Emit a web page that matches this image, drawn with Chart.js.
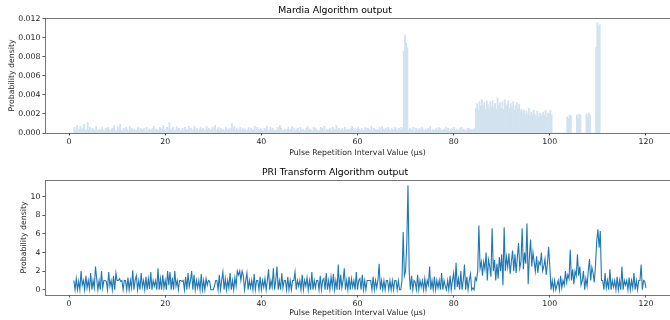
<!DOCTYPE html>
<html>
<head>
<meta charset="utf-8">
<script src="https://cdn.jsdelivr.net/npm/chart.js@4/dist/chart.umd.min.js"></script>
<style>
  html, body { margin: 0; padding: 0; background: #fff; }
  .panel { position: relative; width: 670px; height: 160px; }
</style>
</head>
<body>
<div class="panel"><canvas id="mardiaChart"></canvas></div>
<div class="panel"><canvas id="priChart"></canvas></div>
<script>
// shared x axis (PRI, µs)
const xTicks = [0, 20, 40, 60, 80, 100, 120];
const mardiaYTicks = [0, 0.002, 0.004, 0.006, 0.008, 0.010, 0.012];
const priYTicks = [0, 2, 4, 6, 8, 10];

// Mardia histogram: bins of 0.25 µs starting at 1.0 µs, one row per µs
const mardiaBinStart = 1.0;
const mardiaBinWidth = 0.25;
const mardiaDensity = [
  6e-4, 3e-4, 8e-4, 2e-4,  4e-4, 7e-4, 3e-4, 5e-4,  9e-4, 2e-4, 4e-4, 1.1e-3,  3e-4, 6e-4, 2e-4, 5e-4,
  4e-4, 2e-4, 7e-4, 3e-4,  2e-4, 4e-4, 3e-4, 6e-4,  3e-4, 2e-4, 5e-4, 4e-4,  6e-4, 3e-4, 2e-4, 4e-4,
  5e-4, 8e-4, 3e-4, 2e-4,  7e-4, 4e-4, 9e-4, 3e-4,  2e-4, 5e-4, 3e-4, 6e-4,  4e-4, 2e-4, 7e-4, 3e-4,
  5e-4, 3e-4, 4e-4, 2e-4,  3e-4, 6e-4, 2e-4, 5e-4,  4e-4, 3e-4, 5e-4, 2e-4,  6e-4, 2e-4, 4e-4, 3e-4,
  3e-4, 5e-4, 7e-4, 2e-4,  4e-4, 3e-4, 2e-4, 6e-4,  5e-4, 4e-4, 8e-4, 3e-4,  2e-4, 6e-4, 3e-4, 1.1e-3,
  4e-4, 3e-4, 6e-4, 2e-4,  3e-4, 7e-4, 4e-4, 5e-4,  2e-4, 3e-4, 5e-4, 2e-4,  6e-4, 4e-4, 3e-4, 7e-4,
  3e-4, 5e-4, 2e-4, 4e-4,  7e-4, 3e-4, 5e-4, 2e-4,  4e-4, 6e-4, 3e-4, 5e-4,  2e-4, 4e-4, 7e-4, 3e-4,
  5e-4, 3e-4, 4e-4, 6e-4,  3e-4, 8e-4, 2e-4, 4e-4,  6e-4, 3e-4, 5e-4, 3e-4,  4e-4, 2e-4, 6e-4, 4e-4,
  3e-4, 5e-4, 3e-4, 1.0e-3,  4e-4, 7e-4, 3e-4, 5e-4,  2e-4, 4e-4, 6e-4, 3e-4,  5e-4, 3e-4, 4e-4, 2e-4,
  3e-4, 6e-4, 2e-4, 5e-4,  4e-4, 3e-4, 7e-4, 2e-4,  6e-4, 4e-4, 3e-4, 5e-4,  3e-4, 2e-4, 5e-4, 4e-4,
  7e-4, 3e-4, 2e-4, 6e-4,  4e-4, 5e-4, 3e-4, 2e-4,  3e-4, 6e-4, 4e-4, 8e-4,  5e-4, 2e-4, 3e-4, 4e-4,
  2e-4, 4e-4, 6e-4, 3e-4,  4e-4, 7e-4, 2e-4, 5e-4,  3e-4, 4e-4, 5e-4, 2e-4,  6e-4, 3e-4, 4e-4, 3e-4,
  2e-4, 5e-4, 7e-4, 4e-4,  4e-4, 3e-4, 2e-4, 6e-4,  5e-4, 4e-4, 3e-4, 2e-4,  3e-4, 6e-4, 5e-4, 4e-4,
  7e-4, 2e-4, 4e-4, 3e-4,  4e-4, 5e-4, 2e-4, 6e-4,  3e-4, 4e-4, 8e-4, 3e-4,  5e-4, 2e-4, 4e-4, 5e-4,
  2e-4, 6e-4, 3e-4, 4e-4,  4e-4, 3e-4, 5e-4, 7e-4,  3e-4, 5e-4, 2e-4, 4e-4,  6e-4, 4e-4, 3e-4, 5e-4,
  3e-4, 2e-4, 6e-4, 4e-4,  5e-4, 4e-4, 3e-4, 7e-4,  2e-4, 5e-4, 4e-4, 3e-4,  4e-4, 3e-4, 6e-4, 2e-4,
  7e-4, 4e-4, 3e-4, 5e-4,  3e-4, 6e-4, 4e-4, 2e-4,  5e-4, 3e-4, 4e-4, 6e-4,  4e-4, 2e-4, 5e-4, 3e-4,
  6e-4, 4e-4, 8.6e-3, 1.03e-2,  9.5e-3, 9.0e-3, 3e-4, 5e-4,  4e-4, 3e-4, 6e-4, 2e-4,  5e-4, 4e-4, 3e-4, 5e-4,
  3e-4, 6e-4, 4e-4, 2e-4,  4e-4, 3e-4, 5e-4, 4e-4,  7e-4, 2e-4, 4e-4, 3e-4,  3e-4, 5e-4, 3e-4, 6e-4,
  5e-4, 3e-4, 2e-4, 4e-4,  4e-4, 6e-4, 3e-4, 5e-4,  2e-4, 4e-4, 5e-4, 3e-4,  6e-4, 3e-4, 4e-4, 2e-4,
  3e-4, 5e-4, 6e-4, 4e-4,  4e-4, 3e-4, 2e-4, 5e-4,  5e-4, 4e-4, 3e-4, 4e-4,  3e-4, 5e-4, 2.6e-3, 3.1e-3,
  2.4e-3, 3.3e-3, 2.8e-3, 3.5e-3,  2.9e-3, 3.2e-3, 2.5e-3, 3.4e-3,  3.0e-3, 2.6e-3, 3.3e-3, 2.8e-3,
  3.4e-3, 2.7e-3, 3.1e-3, 2.5e-3,  3.7e-3, 2.9e-3, 3.2e-3, 2.6e-3,  3.3e-3, 2.5e-3, 3.5e-3, 2.8e-3,
  3.0e-3, 3.4e-3, 2.6e-3, 3.1e-3,  2.7e-3, 3.3e-3, 2.4e-3, 2.9e-3,  3.2e-3, 2.6e-3, 3.0e-3, 2.3e-3,
  2.5e-3, 2.1e-3, 2.4e-3, 1.9e-3,  2.3e-3, 2.0e-3, 2.6e-3, 1.8e-3,  2.2e-3, 1.9e-3, 2.4e-3, 2.0e-3,
  1.8e-3, 2.3e-3, 1.7e-3, 2.1e-3,  2.0e-3, 1.8e-3, 2.2e-3, 1.9e-3,  2.4e-3, 1.7e-3, 2.1e-3, 2.0e-3,
  2.4e-3, 1.9e-3, 0, 0,  0, 0, 0, 0,  0, 0, 0, 0,  0, 0, 1.7e-3, 1.5e-3,
  1.9e-3, 1.8e-3, 0, 0,  0, 0, 1.9e-3, 1.6e-3,  2.0e-3, 1.9e-3, 0, 0,  0, 0, 2.0e-3, 1.7e-3,
  2.1e-3, 1.9e-3, 0, 0,  0, 0, 9.0e-3, 1.16e-2,  1.12e-2, 1.14e-2
];

// PRI transform output: samples every 0.25 µs from 1 to 120 µs, one row per µs
const priStart = 1.0;
const priStep = 0.25;
const priDensity = [
  1.0, 0, 1.2, 0,   0.9, 0, 2.0, 0.5,   1.0, 0, 1.5, 0.2,   1.0, 0.1, 1.8, 0,   1.0, 0.2, 2.5, 1.2,
  0, 1.0, 0, 2.0,   0.2, 1.0, 1.0, 0.9,   0, 1.9, 0.4, 1.0,   0, 1.5, 0, 1.8,   1.0, 1.0, 1.2, 0.9,
  1.0, 0, 1.0, 1.0,   0, 1.3, 0, 1.0,   0.2, 2.1, 0, 1.0,   1.5, 0, 1.0, 0,   1.8, 0.3, 1.0, 0,
  1.4, 0, 1.2, 0.1,   1.9, 0, 1.0, 0.4,   1.0, 0, 2.3, 0,   1.2, 0, 1.6, 0.2,   1.0, 0, 2.0, 0.5,
  1.9, 0, 1.3, 0,   2.0, 0.4, 1.0, 0,   1.0, 1.0, 0.9, 1.0,   0, 1.4, 0, 1.8,   0.3, 1.0, 2.0, 0,
  1.6, 0, 1.0, 0.2,   1.0, 0, 1.7, 0,   1.0, 0, 1.2, 0.5,   1.0, 0.9, 0, 0,   0, 0.4, 1.0, 1.0,
  0, 1.6, 0, 1.0,   1.9, 0, 1.2, 0,   1.0, 0.2, 1.8, 0,   1.0, 0, 1.3, 0.4,   2.0, 1.6, 2.0, 1.0,
  2.0, 1.5, 0, 1.0,   1.8, 0, 1.0, 0.2,   1.0, 0, 1.7, 0,   1.0, 1.0, 0, 1.4,   0, 1.0, 0.3, 1.2,
  0, 1.0, 2.2, 0,   1.0, 0.3, 2.3, 0,   1.0, 2.5, 0, 1.0,   0, 1.8, 0.2, 1.0,   1.0, 0, 1.4, 0,
  1.0, 0, 1.0, 1.0,   1.9, 0, 1.0, 0.4,   1.0, 0, 1.6, 0,   1.0, 0.4, 1.3, 0,   1.0, 0, 1.9, 0,
  1.0, 0.2, 1.0, 1.0,   0, 1.5, 0, 1.0,   1.2, 0, 1.8, 0,   1.0, 0, 1.4, 0.3,   1.7, 0, 1.0, 0,
  2.7, 0, 1.6, 0.2,   1.0, 2.3, 0, 1.0,   0, 1.4, 0, 1.2,   0.3, 1.0, 0, 1.9,   0, 1.0, 1.2, 0,
  1.6, 0, 1.0, 0,   1.0, 1.0, 1.0, 1.0,   0, 1.4, 0, 1.0,   0.2, 1.0, 2.8, 0,   1.0, 0, 1.0, 0,
  1.0, 1.0, 0, 1.0,   0, 1.0, 0, 1.0,   1.0, 0, 1.0, 0,   0, 1.0, 6.2, 1.5,   2.0, 5.0, 11.2, 2.0,
  0, 1.5, 0, 1.0,   0.8, 0, 1.6, 0,   1.0, 0.3, 1.0, 0,   1.2, 0, 1.0, 0.5,   2.5, 0, 1.0, 0,
  1.4, 0, 1.0, 0.2,   1.0, 0, 1.8, 0,   1.0, 0.4, 0, 1.0,   0, 1.5, 0, 1.0,   1.8, 0, 2.9, 0.3,
  1.2, 0, 2.0, 0,   1.0, 2.7, 0, 1.4,   0, 1.0, 1.7, 0,   0.2, 0, 1.3, 1.0,   2.0, 6.9, 2.3, 3.0,
  1.5, 3.0, 2.2, 4.0,   1.0, 3.2, 2.5, 1.4,   6.6, 2.0, 3.2, 1.0,   2.8, 1.2, 3.5, 2.0,   3.8, 0.5, 6.7, 2.0,
  3.5, 2.4, 3.9, 1.7,   3.0, 4.2, 2.0, 3.8,   1.8, 3.5, 5.0, 2.3,   3.0, 6.6, 2.2, 4.0,   2.8, 7.1, 0.6, 3.5,
  5.4, 2.5, 4.0, 3.0,   2.0, 3.6, 1.8, 3.0,   2.7, 4.0, 2.0, 2.5,   3.3, 1.6, 2.8, 4.6,   2.5, 0, 1.0, 0,
  1.0, 0, 0.5, 1.0,   0, 1.5, 0.2, 1.0,   0.5, 2.0, 0.8, 1.6,   1.2, 4.3, 1.0, 2.2,   0.6, 2.0, 1.5, 3.8,
  1.5, 2.5, 0.5, 1.0,   2.0, 0, 1.2, 0.4,   2.0, 3.3, 1.0, 2.4,   1.8, 0.8, 2.6, 5.2,   6.5, 4.5, 6.3, 1.0,
  1.0, 0, 1.8, 0.2,   1.0, 0, 2.2, 0,   1.0, 0.3, 1.0, 0,   1.4, 0, 1.0, 0,   2.5, 0, 1.0, 0.5,
  1.0, 0, 1.3, 0,   1.0, 0.2, 1.8, 0,   1.0, 0, 1.0, 1.0,   2.7, 0, 1.0, 0.9,
  0.2
];

const tickFont = { family: "'DejaVu Sans', sans-serif", size: 7.8 };
const titleFont = { family: "'DejaVu Sans', sans-serif", size: 9.3, weight: "normal" };
const textColor = "#222";
const spineColor = "#555";

// matplotlib style full box around the plot area
const frame = {
  id: "frame",
  afterDraw(chart) {
    const { ctx, chartArea: a } = chart;
    ctx.save();
    ctx.strokeStyle = spineColor;
    ctx.lineWidth = 0.8;
    ctx.strokeRect(Math.round(a.left) + 0.5, Math.round(a.top) + 0.5,
      Math.round(a.right - a.left), Math.round(a.bottom - a.top));
    ctx.restore();
  }
};

function xAxis(height) {
  return {
    type: "linear",
    min: -5,
    max: 125,
    offset: false,
    grid: { drawOnChartArea: false, drawTicks: true, tickLength: 2.5, tickColor: spineColor, offset: false },
    border: { display: false },
    ticks: { font: tickFont, color: textColor, padding: 1.5, autoSkip: false, maxRotation: 0 },
    afterBuildTicks: (scale) => { scale.ticks = xTicks.map((v) => ({ value: v })); },
    afterFit: (scale) => { scale.height = height; },
    title: {
      display: true,
      text: "Pulse Repetition Interval Value (\u03bcs)",
      font: tickFont,
      color: textColor,
      padding: { top: 0, bottom: 2 }
    }
  };
}

function yAxis(min, max, tickValues, titleGap, fmt) {
  return {
    min,
    max,
    grid: { drawOnChartArea: false, drawTicks: true, tickLength: 2.5, tickColor: spineColor },
    border: { display: false },
    ticks: { font: tickFont, color: textColor, padding: 2, callback: fmt },
    afterBuildTicks: (scale) => { scale.ticks = tickValues.map((v) => ({ value: v })); },
    afterFit: (scale) => { scale.width = 45; },
    title: {
      display: true,
      text: "Probability density",
      font: tickFont,
      color: textColor,
      padding: { top: titleGap, bottom: 0 }
    }
  };
}

function chartTitle(text, top, bottom) {
  return { display: true, text, font: titleFont, color: "#000", padding: { top, bottom } };
}

const mardiaPoints = mardiaDensity.map((y, i) => ({ x: mardiaBinStart + (i + 0.5) * mardiaBinWidth, y }));
const priPoints = priDensity.map((y, i) => ({ x: priStart + i * priStep, y }));

new Chart(document.getElementById("mardiaChart"), {
  type: "bar",
  data: {
    datasets: [{
      data: mardiaPoints,
      backgroundColor: "#d2e3ef",
      borderWidth: 0,
      barPercentage: 1,
      categoryPercentage: 1
    }]
  },
  options: {
    responsive: true,
    maintainAspectRatio: false,
    animation: false,
    devicePixelRatio: 1,
    layout: { padding: { left: 0, right: 0, top: 0, bottom: 0 } },
    plugins: {
      legend: { display: false },
      tooltip: { enabled: false },
      title: chartTitle("Mardia Algorithm output", 5, 1.8)
    },
    scales: {
      x: xAxis(27),
      y: yAxis(0, 0.0121, mardiaYTicks, 7, (v) => Number(v).toFixed(3))
    }
  },
  plugins: [frame]
});

new Chart(document.getElementById("priChart"), {
  type: "line",
  data: {
    datasets: [{
      data: priPoints,
      borderColor: "#1f77b4",
      borderWidth: 1.1,
      pointRadius: 0,
      tension: 0,
      fill: false
    }]
  },
  options: {
    responsive: true,
    maintainAspectRatio: false,
    animation: false,
    devicePixelRatio: 1,
    layout: { padding: { left: 0, right: 0, top: 0, bottom: 0 } },
    plugins: {
      legend: { display: false },
      tooltip: { enabled: false },
      title: chartTitle("PRI Transform Algorithm output", 7.2, 1.6)
    },
    scales: {
      x: xAxis(25),
      y: yAxis(-0.56, 11.78, priYTicks, 19, (v) => String(v))
    }
  },
  plugins: [frame]
});
</script>
</body>
</html>
